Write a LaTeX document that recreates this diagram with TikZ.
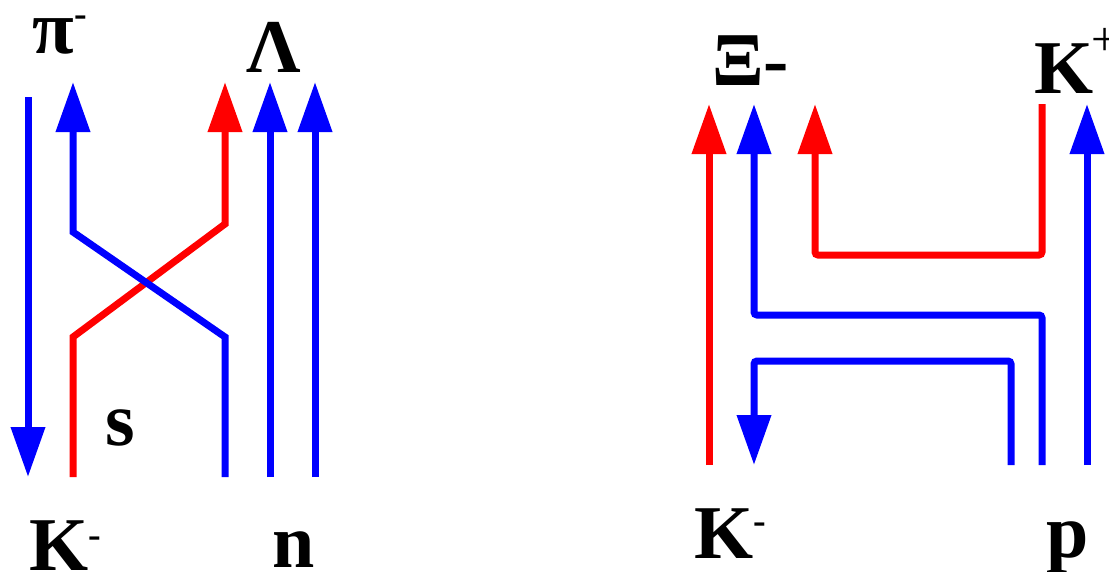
\documentclass[tikz,border=0pt]{standalone}
\usepackage{fontspec}
\setmainfont{Liberation Serif}
\usetikzlibrary{arrows.meta}

\tikzset{
	quark/.style={line width=7pt, -{Triangle[width=33pt, length=50pt]}},
	uq/.style={quark, color=qblue},
	sq/.style={quark, color=qred},
	lbl/.style={inner sep=0pt, anchor=base west, font=\fontsize{76}{80}\selectfont\bfseries}
}
\definecolor{qblue}{RGB}{0,0,255}
\definecolor{qred}{RGB}{255,0,0}
\newcommand{\chg}[2]{\raisebox{#1}{\fontsize{38}{38}\selectfont #2}}

\begin{document}
\begin{tikzpicture}[x=1pt, y=-1pt]
	\useasboundingbox (0,0) rectangle (1109,571);

	% === heights ===
	\def\ybot{477}	\def\ytop{82}
	\def\rbot{465}	\def\rtop{104}

	% === left: K- n -> pi- Lambda ===
	\coordinate (kbar) at (28,97);		\coordinate (kbarend) at (28,\ybot);
	\coordinate (sbot) at (73,\ybot);	\coordinate (stop) at (225,\ytop);
	\coordinate (ubot) at (225,\ybot);	\coordinate (utop) at (73,\ytop);
	\draw[uq] (kbar) -- (kbarend);
	\draw[sq, line join=miter] (sbot) -- (73,337) -- (225,224) -- (stop);
	\draw[uq, line join=miter] (ubot) -- (225,337) -- (73,232) -- (utop);
	\foreach \x in {270, 315} {
		\draw[uq] (\x,\ybot) -- (\x,\ytop);	% spectator quarks
	}

	\node[lbl] (pim) at (32,53) {π\kern1pt\chg{27pt}{-}};
	\node[lbl] (lam) at (246,72) {Λ};
	\node[lbl] (squark) at (105,445) {s};
	\node[lbl] (kml) at (29,570) {K\chg{23pt}{-}};
	\node[lbl] (neut) at (272,567) {n};

	% === right: K- p -> Xi- K+ ===
	\draw[sq] (709,\rbot) -- (709,\rtop);
	\draw[uq, rounded corners=3pt] (1042,\rbot) -- (1042,315) -- (754,315) -- (754,\rtop);
	\draw[sq, rounded corners=3pt] (1042,\rtop) -- (1042,255) -- (815,255) -- (815,\rtop);
	\draw[uq] (1087,\rbot) -- (1087,\rtop);
	\draw[uq, rounded corners=3pt] (1011,\rbot) -- (1011,361) -- (754,361) -- (754,\rbot);

	\node[lbl] (xim) at (712,85) {Ξ-};
	\node[lbl] (kp) at (1034,93) {K\kern-2pt\raisebox{38pt}{\fontsize{48}{48}\selectfont\mdseries +}};
	\node[lbl] (kmr) at (694,558) {K\chg{25pt}{-}};
	\node[lbl] (prot) at (1046,557) {p};
\end{tikzpicture}
\end{document}
